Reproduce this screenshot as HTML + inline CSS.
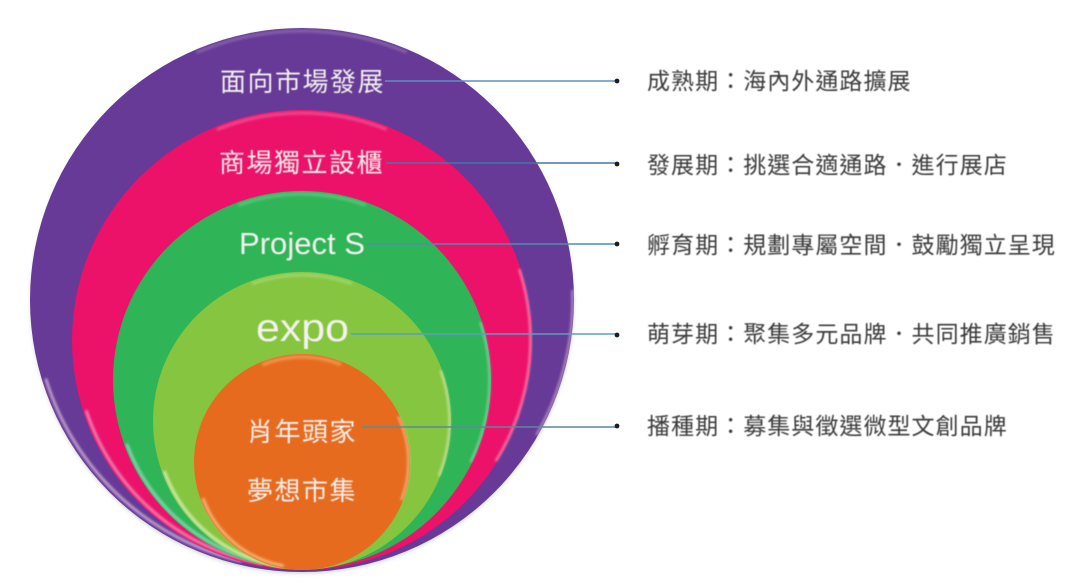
<!DOCTYPE html>
<html>
<head>
<meta charset="utf-8">
<style>
html,body{margin:0;padding:0;background:#fff;width:1080px;height:585px;overflow:hidden}
svg{display:block}
.w{fill:#f4f1ee;font-family:"Liberation Sans","Noto Sans CJK TC",sans-serif;font-size:26px;letter-spacing:1.5px}
.r{fill:#3a3a3a;font-family:"Liberation Sans","Noto Sans CJK TC",sans-serif;font-size:23px;letter-spacing:1.05px}
.l{fill:#f4f1ee;font-family:"Liberation Sans",sans-serif}
.a{fill:none;opacity:.8}
</style>
</head>
<body>
<svg width="1080" height="585" viewBox="0 0 1080 585" xmlns="http://www.w3.org/2000/svg">
<defs>
<filter id="b" x="-10%" y="-10%" width="120%" height="120%"><feGaussianBlur stdDeviation="1.2"/></filter>
<filter id="s" x="-10%" y="-10%" width="120%" height="120%"><feGaussianBlur stdDeviation="2"/></filter>
<filter id="t" x="-5%" y="-20%" width="110%" height="140%"><feGaussianBlur stdDeviation="0.45"/></filter>
</defs>

<circle cx="302" cy="302" r="271" fill="#9a9a9a" opacity=".5" filter="url(#s)"/>

<!-- purple -->
<circle cx="302" cy="300" r="272" fill="#663a96"/>
<g filter="url(#b)">
<circle class="a" cx="302" cy="300" r="268" pathLength="360" stroke="#e9cfe8" stroke-width="2.5" stroke-dasharray="60 300" stroke-dashoffset="-103"/>
<circle class="a" cx="302" cy="300" r="270.5" pathLength="360" stroke="#d9bfe0" stroke-width="1.8" stroke-dasharray="32 328" stroke-dashoffset="-358"/>
<circle class="a" cx="302" cy="300" r="269" pathLength="360" stroke="#8f6cb0" stroke-width="3" stroke-dasharray="46 314" stroke-dashoffset="-247"/>
</g>

<!-- pink -->
<circle cx="302" cy="340" r="230" fill="#ec1169"/>
<g filter="url(#b)">
<circle class="a" cx="302" cy="340" r="227" pathLength="360" stroke="#f0b0d4" stroke-width="2.5" stroke-dasharray="62 298" stroke-dashoffset="-100"/>
<circle class="a" cx="302" cy="340" r="228.5" pathLength="360" stroke="#f2c4dc" stroke-width="1.8" stroke-dasharray="50 310" stroke-dashoffset="-342"/>
<circle class="a" cx="302" cy="340" r="227" pathLength="360" stroke="#f2559a" stroke-width="3" stroke-dasharray="44 316" stroke-dashoffset="-248"/>
</g>

<!-- green -->
<circle cx="302" cy="380" r="189" fill="#2fb457"/>
<g filter="url(#b)">
<circle class="a" cx="302" cy="380" r="186.5" pathLength="360" stroke="#a8e4da" stroke-width="2.5" stroke-dasharray="62 298" stroke-dashoffset="-98"/>
<circle class="a" cx="302" cy="380" r="187.5" pathLength="360" stroke="#a5dcc4" stroke-width="1.8" stroke-dasharray="44 316" stroke-dashoffset="-342"/>
<circle class="a" cx="302" cy="380" r="186" pathLength="360" stroke="#62c985" stroke-width="3" stroke-dasharray="40 320" stroke-dashoffset="-250"/>
</g>

<!-- light green -->
<circle cx="302" cy="421" r="149" fill="#85c540"/>
<g filter="url(#b)">
<circle class="a" cx="302" cy="421" r="146.5" pathLength="360" stroke="#f2f7d8" stroke-width="2.5" stroke-dasharray="62 298" stroke-dashoffset="-98"/>
<circle class="a" cx="302" cy="421" r="147.5" pathLength="360" stroke="#e6f2cf" stroke-width="1.8" stroke-dasharray="42 318" stroke-dashoffset="-340"/>
<circle class="a" cx="302" cy="421" r="146" pathLength="360" stroke="#aad873" stroke-width="3" stroke-dasharray="40 320" stroke-dashoffset="-250"/>
</g>

<!-- orange -->
<circle cx="302" cy="462" r="108" fill="#e76b1f"/>
<g filter="url(#b)">
<circle class="a" cx="302" cy="462" r="105.5" pathLength="360" stroke="#fbd49a" stroke-width="2.5" stroke-dasharray="60 300" stroke-dashoffset="-100"/>
<circle class="a" cx="302" cy="462" r="106.5" pathLength="360" stroke="#f9dcae" stroke-width="1.8" stroke-dasharray="46 314" stroke-dashoffset="-335"/>
<circle class="a" cx="302" cy="462" r="105" pathLength="360" stroke="#f4a25e" stroke-width="3" stroke-dasharray="44 316" stroke-dashoffset="-248"/>
</g>

<!-- connectors -->
<g stroke-width="1.4" fill="none">
<line x1="385" y1="81" x2="616" y2="81" stroke="#5b8fc4"/>
<line x1="386" y1="163" x2="616" y2="163" stroke="#4477a8"/>
<line x1="368" y1="244" x2="616" y2="244" stroke="#4c8eb0"/>
<line x1="351" y1="334" x2="616" y2="334" stroke="#5b9dc0"/>
<line x1="361" y1="427" x2="616" y2="427" stroke="#5a8a98"/>
</g>
<g fill="#1c1c1c">
<circle cx="617" cy="81" r="2.4"/>
<circle cx="617" cy="164" r="2.4"/>
<circle cx="617" cy="244" r="2.4"/>
<circle cx="617" cy="335" r="2.4"/>
<circle cx="617" cy="426" r="2.4"/>
</g>

<!-- circle labels -->
<g filter="url(#t)">
<text class="w" x="220" y="91">面向市場發展</text>
<text class="w" x="219" y="172">商場獨立設櫃</text>
<text class="w" x="247" y="441">肖年頭家</text>
<text class="w" x="247" y="500">夢想市集</text>
<text class="l" x="239" y="254" font-size="31" textLength="126" lengthAdjust="spacingAndGlyphs">Project S</text>
<text class="l" x="256" y="341" font-size="39" textLength="93" lengthAdjust="spacingAndGlyphs">expo</text>
</g>

<!-- right labels -->
<g filter="url(#t)">
<text class="r" x="647" y="89">成熟期：海內外通路擴展</text>
<text class="r" x="647" y="173">發展期：挑選合適通路．進行展店</text>
<text class="r" x="647" y="253">孵育期：規劃專屬空間．鼓勵獨立呈現</text>
<text class="r" x="647" y="342">萌芽期：聚集多元品牌．共同推廣銷售</text>
<text class="r" x="647" y="434">播種期：募集與徵選微型文創品牌</text>
</g>
</svg>
</body>
</html>
